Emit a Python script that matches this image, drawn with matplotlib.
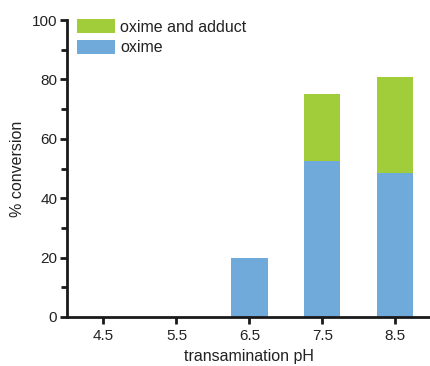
import matplotlib
matplotlib.use("Agg")
import matplotlib.pyplot as plt
from matplotlib.patches import Patch
from matplotlib.ticker import MultipleLocator

plt.rcParams['font.family'] = ['Liberation Sans', 'DejaVu Sans']

ph = [4.5, 5.5, 6.5, 7.5, 8.5]
oxime = [0, 0, 20, 52.5, 48.5]
adduct = [0, 0, 0, 22.5, 32.5]
labels = ["4.5", "5.5", "6.5", "7.5", "8.5"]

green = "#A2CD3A"
blue = "#6FAADB"

fig = plt.figure(figsize=(4.31, 3.66), dpi=100)
ax = fig.add_axes([0.1555, 0.134, 0.846, 0.811])

ax.bar(ph, oxime, width=0.5, color=blue, edgecolor="none", linewidth=0)
ax.bar(ph, adduct, width=0.5, bottom=oxime, color=green, edgecolor="none", linewidth=0)

ax.set_xlim(4.0, 9.0)
ax.set_ylim(0, 100)
ax.set_xticks(ph)
ax.set_xticklabels(labels)
ax.set_yticks([0, 20, 40, 60, 80, 100])
ax.yaxis.set_minor_locator(MultipleLocator(10))

for s in ["top", "right"]:
    ax.spines[s].set_visible(False)
for s in ["left", "bottom"]:
    ax.spines[s].set_linewidth(2)
    ax.spines[s].set_color("#1a1a1a")
ax.tick_params(axis="both", which="major", length=5, width=2, labelsize=11,
               color="#1a1a1a", labelcolor="#222222", pad=2)
ax.tick_params(axis="y", which="minor", length=4, width=2, color="#1a1a1a")
ax.tick_params(axis="x", pad=4)

ax.set_ylabel("% conversion", fontsize=11.5, labelpad=5, color="#222222")
ax.set_xlabel("transamination pH", fontsize=11.5, labelpad=4, color="#222222")

handles = [Patch(facecolor=green, edgecolor="none"), Patch(facecolor=blue, edgecolor="none")]
ax.legend(handles, ["oxime and adduct", "oxime"], loc="upper left",
          bbox_to_anchor=(0.01, 1.025), frameon=False, fontsize=11.5,
          handlelength=2.4, handleheight=1.0, handletextpad=0.3,
          labelspacing=0.3, borderaxespad=0, labelcolor="#222222")

fig.savefig("out.png", dpi=100)
